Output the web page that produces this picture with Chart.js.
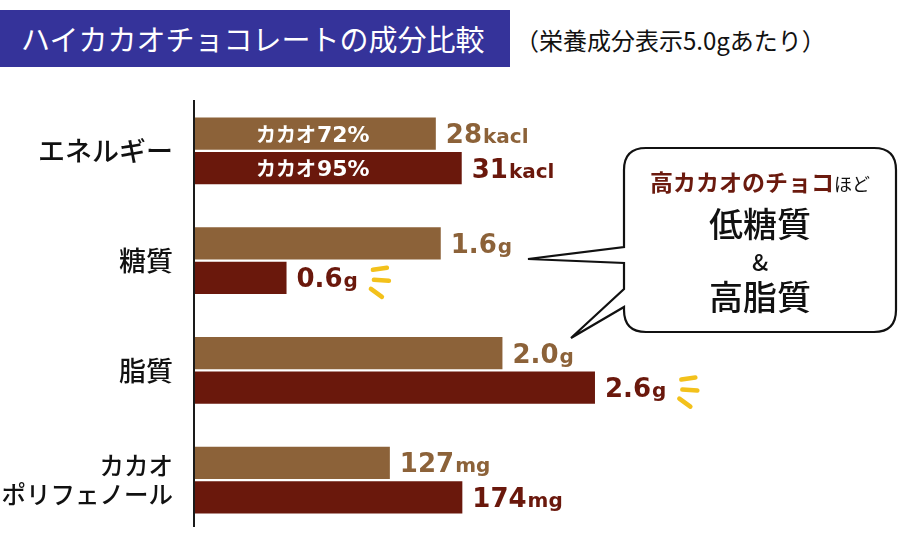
<!DOCTYPE html>
<html lang="ja">
<head>
<meta charset="utf-8">
<script src="https://cdn.jsdelivr.net/npm/chart.js@4/dist/chart.umd.min.js"></script>
<style>
  body { margin: 0; width: 900px; height: 538px; position: relative; overflow: hidden; background: #fff;
         font-family: "Noto Sans CJK JP", sans-serif; }
  #title { position: absolute; left: 0; top: 10px; width: 510px; height: 57px; background: #35339a;
           color: #fff; font-size: 29px; line-height: 57px; padding-left: 21px; box-sizing: border-box; }
  #sub { position: absolute; left: 515px; top: 22px; font-size: 24px; color: #111; line-height: 36px; }
  #chart { position: absolute; left: 0; top: 0; }
  #balloon { position: absolute; left: 0; top: 0; pointer-events: none; }
  .bt { position: absolute; left: 624px; width: 272px; text-align: center; color: #111; white-space: nowrap; }
  #b1 { top: 164px; font-size: 23px; font-weight: 700; color: #6b1a0e; line-height: 34px; }
  #b1 span { font-size: 18px; font-weight: 400; color: #111; }
  #b2 { top: 200px; font-size: 34px; line-height: 46px; font-weight: 500; }
  #b3 { top: 246px; font-size: 23px; line-height: 30px; font-weight: 500; }
  #b4 { top: 273px; font-size: 34px; line-height: 46px; font-weight: 500; }
</style>
</head>
<body>
<div id="title">ハイカカオチョコレートの成分比較</div>
<div id="sub">（栄養成分表示5.0gあたり）</div>
<canvas id="chart" width="900" height="538"></canvas>
<svg id="balloon" width="900" height="538">
  <path d="M646 148 H874 Q896 148 896 170 V310 Q896 332 874 332 H646 Q624 332 624 310 V307 L571 338 L624 289 V263 L528 259 L624 247 V170 Q624 148 646 148 Z"
        fill="#fff" stroke="#111" stroke-width="2.2" stroke-linejoin="miter"/>
</svg>
<div class="bt" id="b1">高カカオのチョコ<span>ほど</span></div>
<div class="bt" id="b2">低糖質</div>
<div class="bt" id="b3">&amp;</div>
<div class="bt" id="b4">高脂質</div>

<script>
const categories = ['エネルギー', '糖質', '脂質', ['カカオ', 'ポリフェノール']];
const seriesNames = ['カカオ72%', 'カカオ95%'];
const cacao72 = [28, 1.6, 2.0, 127];
const cacao95 = [31, 0.6, 2.6, 174];
const units = ['kacl', 'g', 'g', 'mg'];
const decimals = [0, 1, 1, 0];
// 項目ごとに単位が違うので棒の長さだけ揃える倍率
const barScale = [0.056, 1, 1, 0.01];
// 黄色の強調マーク（カカオ95%側）
const highlight = [false, true, true, false];

const colors = ['#8c6239', '#6a180c'];
const rawValues = [cacao72, cacao95];

function drawSquiggle(ctx, x, y) {
  ctx.save();
  ctx.strokeStyle = '#f3c11b';
  ctx.lineWidth = 4.5;
  ctx.lineCap = 'round';
  [[0, -8, 14, -10], [1, 2, 16, 3], [-2, 11, 9, 19]].forEach(d => {
    ctx.beginPath();
    ctx.moveTo(x + d[0], y + d[1]);
    ctx.lineTo(x + d[2], y + d[3]);
    ctx.stroke();
  });
  ctx.restore();
}

const barLabels = {
  id: 'barLabels',
  afterDatasetsDraw(chart) {
    const ctx = chart.ctx;
    const area = chart.chartArea;
    ctx.save();
    // 縦軸の線
    ctx.strokeStyle = '#1a1a1a';
    ctx.lineWidth = 2;
    ctx.beginPath();
    ctx.moveTo(area.left, area.top + 4);
    ctx.lineTo(area.left, area.bottom - 8);
    ctx.stroke();

    chart.data.datasets.forEach((ds, di) => {
      const meta = chart.getDatasetMeta(di);
      meta.data.forEach((bar, i) => {
        const num = rawValues[di][i].toFixed(decimals[i]);
        const base = bar.y + 9.5;
        let x = bar.x + 10;
        ctx.textAlign = 'left';
        ctx.textBaseline = 'alphabetic';
        ctx.fillStyle = colors[di];
        ctx.font = 'bold 26px "DejaVu Sans"';
        ctx.fillText(num, x, base);
        x += ctx.measureText(num).width + 1;
        ctx.font = 'bold 20px "DejaVu Sans"';
        ctx.fillText(units[i], x, base);
        x += ctx.measureText(units[i]).width;
        if (di === 1 && highlight[i]) drawSquiggle(ctx, x + 15, bar.y);

        // 最初の棒に系列名
        if (i === 0) {
          const m = seriesNames[di].match(/^(\D+)(.*)$/);
          let lx = area.left + 62;
          ctx.fillStyle = '#fff';
          ctx.font = '700 20px "Noto Sans CJK JP"';
          ctx.fillText(m[1], lx, bar.y + 8);
          lx += ctx.measureText(m[1]).width + 1;
          ctx.font = 'bold 22px "DejaVu Sans"';
          ctx.fillText(m[2], lx, bar.y + 8);
        }
      });
    });
    ctx.restore();
  }
};

new Chart(document.getElementById('chart'), {
  type: 'bar',
  data: {
    labels: categories,
    datasets: seriesNames.map((name, di) => ({
      label: name,
      data: rawValues[di].map((v, i) => v * barScale[i]),
      backgroundColor: colors[di],
      categoryPercentage: 0.627,
      barPercentage: 0.94
    }))
  },
  options: {
    indexAxis: 'y',
    responsive: false,
    animation: false,
    layout: { padding: { top: 96, bottom: 3, right: 12, left: 0 } },
    plugins: {
      legend: { display: false },
      tooltip: { enabled: false }
    },
    scales: {
      x: { display: false, min: 0, max: 4.5 },
      y: {
        grid: { display: false },
        border: { display: false },
        ticks: {
          color: '#111',
          padding: 13,
          font: ctx => ({
            family: '"Noto Sans CJK JP"',
            size: ctx.index === 3 ? 24.5 : 27,
            weight: 500,
            lineHeight: 1.2
          })
        },
        afterFit(scale) {
          scale.width = 194;
          scale.paddingTop = 0;
          scale.paddingBottom = 0;
        }
      }
    }
  },
  plugins: [barLabels]
});
</script>
</body>
</html>
